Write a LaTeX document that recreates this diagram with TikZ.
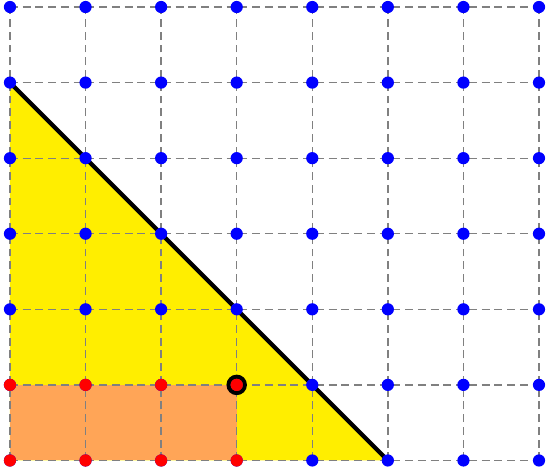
\documentclass[tikz,border=0pt]{standalone}
\usepackage{xcolor}
\usepackage{tikz}
\usetikzlibrary{positioning,calc}
\definecolor{triyellow}{HTML}{FFEE00}
\definecolor{boxorange}{HTML}{FFA557}
\tikzset{
  gridline/.style={draw=gray,dash pattern=on 3pt off 1.8pt,line width=0.5pt},
  latpt/.style={circle,fill=blue,inner sep=0pt,minimum size=4.6pt},
  redpt/.style={latpt,fill=red},
  ringpt/.style={circle,draw=black,line width=1.5pt,inner sep=0pt,minimum size=6.2pt},
  hypot/.style={draw=black,line width=1.6pt},
}

\begin{document}
\begin{tikzpicture}
  \useasboundingbox (-0.132,-0.146) rectangle (7.106,6.093);
  % region under the line and the box
  \fill[triyellow] (0,5) -- (0,0) -- (5,0) -- cycle;
  \fill[boxorange] (0,0) rectangle (3,1);
  % dashed lattice
  \foreach \x in {0,...,7} {
    \draw[gridline] (\x,0) -- (\x,6);
  }
  \foreach \y in {0,...,6} {
    \draw[gridline] (0,\y) -- (7,\y);
  }
  % lattice points
  \foreach \x in {0,...,7} {
    \foreach \y in {0,...,6} {
      \coordinate (p\x\y) at (\x,\y);
    }
  }
  \draw[hypot] (p05) -- (p50);
  \foreach \x in {0,...,7} {
    \foreach \y in {0,...,6} {
      \node[latpt] (d\x\y) at (p\x\y) {};
    }
  }
  \foreach \x in {0,...,3} {
    \foreach \y in {0,1} {
      \node[redpt] (r\x\y) at (p\x\y) {};
    }
  }
  \node[ringpt] (corner) at (p31) {};
  \node[redpt] at (corner) {};
\end{tikzpicture}
\end{document}
